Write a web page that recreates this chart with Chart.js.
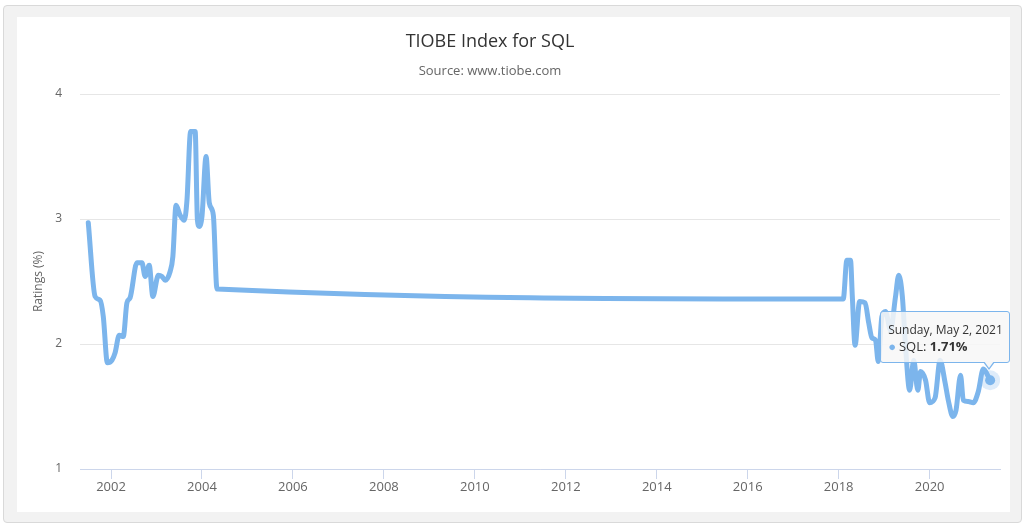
<!DOCTYPE html>
<html>
<head>
<meta charset="utf-8">
<title>TIOBE Index for SQL</title>
<script src="https://cdn.jsdelivr.net/npm/chart.js@4.4.1/dist/chart.umd.min.js"></script>
<style>
    body { margin: 0; background: #fff; font-family: "Open Sans", sans-serif; }
    .panel { position: absolute; left: 3px; top: 5px; width: 1017px; height: 516px; background: #f2f2f2; border: 1px solid #d9d9d9; border-radius: 4px; }
    .inner { position: absolute; left: 17px; top: 17px; width: 993px; height: 495px; background: #fff; }
    .title { position: absolute; left: 0; width: 980px; top: 28px; text-align: center; font-size: 18px; line-height: 24px; color: #333; }
    .subtitle { position: absolute; left: 0; width: 980px; top: 61px; text-align: center; font-size: 13px; line-height: 18px; color: #666; }
    #tooltip { position: absolute; display: none; width: 117px; padding: 10px 4px 8px 7px; line-height: 16px; color: #333;
               background: rgba(247, 247, 247, 0.85); border: 1px solid #7cb5ec; border-radius: 3px; white-space: nowrap; }
    #tooltip::after { content: ''; position: absolute; left: 102px; top: 50px; border-left: 6px solid transparent; border-right: 6px solid transparent; border-top: 8px solid #7cb5ec; }
    #tooltip::before { content: ''; position: absolute; left: 103px; top: 49px; border-left: 5px solid transparent; border-right: 5px solid transparent; border-top: 7px solid #f7f7f7; z-index: 1; }
    #tooltip .head { font-size: 12px; }
    #tooltip .row { font-size: 13px; }
    #tooltip .dot { color: #7cb5ec; font-size: 13px; margin-right: 3px; }
</style>
</head>
<body>
<div class="panel"></div>
<div class="inner"><canvas id="chart"></canvas></div>
<div class="title">TIOBE Index for SQL</div>
<div class="subtitle">Source: www.tiobe.com</div>
<div id="tooltip"></div>
<script>
// Decimal years
const years = [
    2001.50, 2001.65, 2001.76, 2001.83, 2001.92, 2002.02, 2002.09, 2002.18, 2002.27, 2002.35,
    2002.42, 2002.57, 2002.68, 2002.75, 2002.84, 2002.92, 2003.04, 2003.12, 2003.19, 2003.30,
    2003.36, 2003.43, 2003.52, 2003.61, 2003.67, 2003.75, 2003.85, 2003.90, 2003.94, 2004.00,
    2004.09, 2004.16, 2004.25, 2004.33,
    2018.10, 2018.18, 2018.26, 2018.30, 2018.36, 2018.46, 2018.58, 2018.66, 2018.73, 2018.81,
    2018.87, 2018.95, 2019.03, 2019.14, 2019.25, 2019.32, 2019.40, 2019.47, 2019.56, 2019.65,
    2019.74, 2019.80, 2019.91, 2020.00, 2020.12, 2020.23, 2020.34, 2020.41, 2020.51, 2020.58,
    2020.68, 2020.74, 2020.85, 2020.96, 2021.07, 2021.18, 2021.33
];

// SQL ratings in %
const ratings = [
    2.97, 2.38, 2.35, 2.22, 1.85, 1.87, 1.93, 2.07, 2.06, 2.33,
    2.37, 2.65, 2.65, 2.54, 2.63, 2.38, 2.55, 2.54, 2.51, 2.58,
    2.70, 3.11, 3.03, 2.99, 3.15, 3.70, 3.70, 2.99, 2.94, 3.02,
    3.50, 3.13, 3.03, 2.44,
    2.36, 2.67, 2.67, 2.38, 1.99, 2.34, 2.33, 2.17, 2.05, 2.03,
    1.86, 2.22, 2.26, 2.11, 2.38, 2.55, 2.38, 1.98, 1.63, 1.87,
    1.63, 1.78, 1.71, 1.53, 1.57, 1.87, 1.69, 1.55, 1.42, 1.47,
    1.75, 1.55, 1.54, 1.53, 1.62, 1.80, 1.71
];

const xTicks = [2002, 2004, 2006, 2008, 2010, 2012, 2014, 2016, 2018, 2020];
const yTicks = [1, 2, 3, 4];
const seriesName = 'SQL';
const lastDateLabel = 'Sunday, May 2, 2021';

const lineColor = '#7cb5ec';
const last = years.length - 1;

// HTML tooltip placed from the library's caret position
function drawTooltip(context) {
    const tip = context.tooltip;
    const el = document.getElementById('tooltip');
    if (tip.opacity === 0) {
        el.style.display = 'none';
        return;
    }
    const point = tip.dataPoints[0];
    el.innerHTML = '<div class="head">' + lastDateLabel + '</div>' +
        '<div class="row"><span class="dot">\u25CF</span>' + seriesName + ': <b>' +
        point.parsed.y.toFixed(2) + '%</b></div>';
    const box = context.chart.canvas.getBoundingClientRect();
    el.style.display = 'block';
    el.style.left = (box.left + tip.caretX - 110) + 'px';
    el.style.top = (box.top + tip.caretY - 69) + 'px';
}

Chart.defaults.font.family = '"Open Sans", sans-serif';
Chart.defaults.color = '#666';

const chart = new Chart(document.getElementById('chart'), {
    type: 'line',
    data: {
        datasets: [
            {
                // hover marker
                label: 'marker',
                data: [{ x: years[last], y: ratings[last] }],
                showLine: false,
                pointRadius: 5,
                pointBackgroundColor: lineColor,
                pointBorderWidth: 0,
                order: 1
            },
            {
                // halo around the hovered point
                label: 'halo',
                data: [{ x: years[last], y: ratings[last] }],
                showLine: false,
                pointRadius: 10,
                pointBackgroundColor: 'rgba(124, 181, 236, 0.25)',
                pointBorderWidth: 0,
                order: 2
            },
            {
                label: seriesName,
                data: years.map((x, i) => ({ x: x, y: ratings[i] })),
                borderColor: lineColor,
                borderWidth: 5,
                borderCapStyle: 'round',
                borderJoinStyle: 'round',
                cubicInterpolationMode: 'monotone',
                pointRadius: 0,
                fill: false,
                order: 3
            }
        ]
    },
    options: {
        responsive: true,
        maintainAspectRatio: false,
        animation: false,
        events: [],
        layout: { padding: { top: 77, right: 10, bottom: 0, left: 0 } },
        scales: {
            x: {
                type: 'linear',
                min: 2001.318,
                max: 2021.547,
                afterBuildTicks: function(scale) {
                    scale.ticks = xTicks.map(v => ({ value: v }));
                },
                afterFit: function(scale) {
                    scale.height = 43;
                },
                ticks: {
                    autoSkip: false,
                    maxRotation: 0,
                    padding: 0,
                    color: '#666',
                    font: { size: 13 },
                    callback: function(value) {
                        return String(value);
                    }
                },
                grid: {
                    drawOnChartArea: false,
                    drawTicks: true,
                    tickLength: 10,
                    color: '#ccd6eb'
                },
                border: { display: true, color: '#ccd6eb' }
            },
            y: {
                min: 1,
                max: 4,
                afterBuildTicks: function(scale) {
                    scale.ticks = yTicks.map(v => ({ value: v }));
                },
                afterFit: function(scale) {
                    scale.width = 63;
                },
                ticks: {
                    padding: 18,
                    color: '#666',
                    font: { size: 12 }
                },
                grid: {
                    color: '#e6e6e6',
                    drawTicks: false
                },
                border: { display: false },
                title: {
                    display: true,
                    text: 'Ratings (%)',
                    color: '#666',
                    font: { size: 12 },
                    padding: { top: 14, bottom: 0 }
                }
            }
        },
        plugins: {
            legend: { display: false },
            tooltip: {
                enabled: false,
                external: drawTooltip,
                filter: item => item.datasetIndex === 2
            }
        }
    }
});

// Show the tooltip on the last point like the screenshot
const lastEl = chart.getDatasetMeta(2).data[last];
chart.tooltip.setActiveElements([{ datasetIndex: 2, index: last }], { x: lastEl.x, y: lastEl.y });
chart.update();
</script>
</body>
</html>
